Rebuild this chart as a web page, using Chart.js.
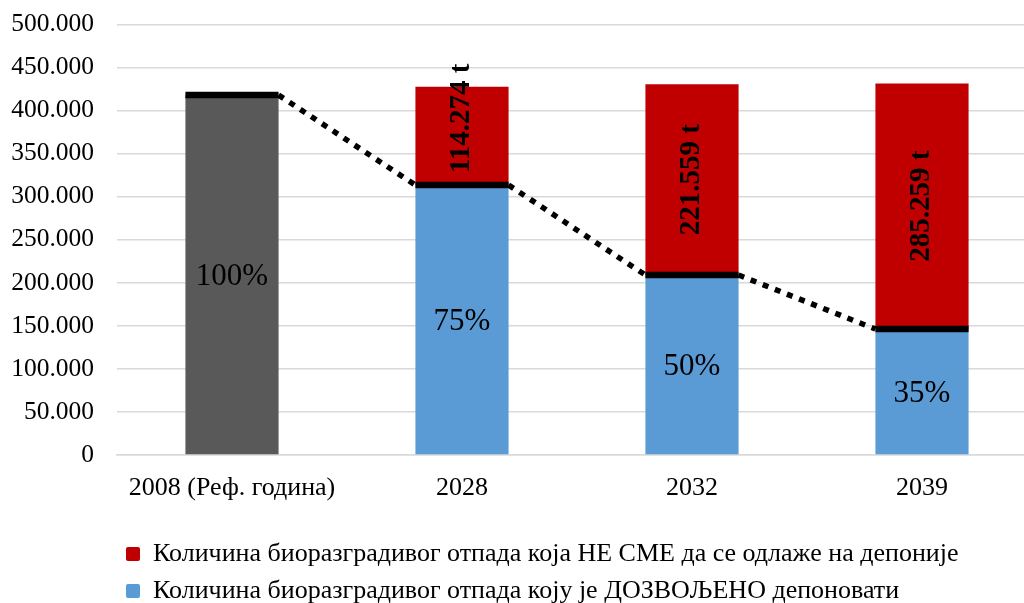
<!DOCTYPE html>
<html>
<head>
<meta charset="utf-8">
<script src="https://cdn.jsdelivr.net/npm/chart.js"></script>
<style>
  html, body { margin: 0; padding: 0; background: #fff; overflow: hidden; }
  #wrap { width: 1040px; height: 603px; }
</style>
</head>
<body>
<div id="wrap"><canvas id="grafik" width="1040" height="603"></canvas></div>
<script>
// Категорије (године)
const godine = ['2008 (Реф. година)', '2028', '2032', '2039'];
// Референтна количина 2008. године (t)
const referentna = [418000, null, null, null];
// Количина коју је дозвољено депоновати (t)
const dozvoljeno = [null, 313500, 209000, 146300];
// Количина која не сме да се одлаже (t)
const zabranjeno = [null, 114274, 221559, 285259];
// Проценти у односу на референтну годину
const procenti = ['100%', '75%', '50%', '35%'];
// Подеоци на Y оси
const yMin = 0, yMax = 500000, yKorak = 50000;

const SERIF = "'Liberation Serif', 'Times New Roman', serif";

// 500000 -> "500.000"
function formatBroj(v) {
    return String(v).replace(/\B(?=(\d{3})+(?!\d))/g, '.');
}

// Црне ознаке на врху стубова, тачкаста линија и натписи у стубовима
const oznakePlugin = {
    id: 'oznake',
    afterLayout(chart) {
        // легенда поравнана лево испод графикона
        const lg = chart.legend;
        lg.left = 115;
        lg.top += 11;
        lg.bottom += 11;
    },
    afterDatasetsDraw(chart) {
        const ctx = chart.ctx;
        const mRef = chart.getDatasetMeta(0);
        const mDoz = chart.getDatasetMeta(1);
        const mZab = chart.getDatasetMeta(2);

        const donji = godine.map((g, i) => referentna[i] != null ? mRef.data[i] : mDoz.data[i]);

        ctx.save();
        // тачкаста линија између стубова
        ctx.strokeStyle = '#000';
        ctx.lineWidth = 5.5;
        ctx.setLineDash([6, 7]);
        ctx.lineCap = 'butt';
        for (let i = 1; i < donji.length; i++) {
            const a = donji[i - 1], b = donji[i];
            ctx.beginPath();
            ctx.moveTo(a.x + a.width / 2, a.y);
            ctx.lineTo(b.x - b.width / 2, b.y);
            ctx.stroke();
        }
        // дебеле црне црте на врху
        ctx.setLineDash([]);
        ctx.lineWidth = 6.5;
        donji.forEach(el => {
            ctx.beginPath();
            ctx.moveTo(el.x - el.width / 2, el.y);
            ctx.lineTo(el.x + el.width / 2, el.y);
            ctx.stroke();
        });

        // проценти у средини доњих стубова
        ctx.fillStyle = '#000';
        ctx.textAlign = 'center';
        ctx.textBaseline = 'middle';
        ctx.font = '31px ' + SERIF;
        donji.forEach((el, i) => {
            ctx.fillText(procenti[i], el.x, (el.y + el.base) / 2 + 2);
        });

        // вертикални натписи у црвеним стубовима
        ctx.font = 'bold 29px ' + SERIF;
        zabranjeno.forEach((v, i) => {
            if (v == null) return;
            const el = mZab.data[i];
            const tekst = formatBroj(v) + ' t';
            const duz = ctx.measureText(tekst).width;
            const cy = Math.min((el.y + el.base) / 2, el.base - duz / 2 - 12);
            ctx.save();
            ctx.translate(el.x, cy);
            ctx.rotate(-Math.PI / 2);
            ctx.fillText(tekst, 0, 0);
            ctx.restore();
        });
        ctx.restore();
    }
};

const ctx = document.getElementById('grafik').getContext('2d');
const grafik = new Chart(ctx, {
    type: 'bar',
    data: {
        labels: godine,
        datasets: [
            {
                label: 'Референтна година',
                data: referentna,
                backgroundColor: '#595959'
            },
            {
                label: 'Количина биоразградивог отпада коју је ДОЗВОЉЕНО депоновати',
                data: dozvoljeno,
                backgroundColor: '#5b9bd5'
            },
            {
                label: 'Количина биоразградивог отпада која НЕ СМЕ да се одлаже на депоније',
                data: zabranjeno,
                backgroundColor: '#c00000'
            }
        ]
    },
    options: {
        responsive: false,
        animation: false,
        categoryPercentage: 1,
        barPercentage: 0.405,
        layout: { padding: { top: 24.5, right: 3, left: 0, bottom: 0 } },
        scales: {
            x: {
                stacked: true,
                grid: { display: false },
                border: { display: true, color: '#d9d9d9', width: 1.5 },
                ticks: {
                    color: '#000',
                    padding: 10,
                    maxRotation: 0,
                    font: { family: SERIF, size: 26 }
                },
                afterFit(scale) { scale.height = 64; }
            },
            y: {
                stacked: true,
                min: yMin,
                max: yMax,
                grid: {
                    color: '#d9d9d9',
                    lineWidth: 1.5,
                    drawTicks: true,
                    tickLength: 23,
                    tickColor: 'rgba(0,0,0,0)'
                },
                border: { display: false },
                ticks: {
                    stepSize: yKorak,
                    color: '#000',
                    padding: 0,
                    font: { family: SERIF, size: 25.5 },
                    callback: v => formatBroj(v)
                },
                afterFit(scale) { scale.width = 117; }
            }
        },
        plugins: {
            tooltip: { enabled: false },
            legend: {
                position: 'bottom',
                align: 'start',
                labels: {
                    color: '#000',
                    boxWidth: 14,
                    boxHeight: 14,
                    padding: 11,
                    useBorderRadius: true,
                    borderRadius: 2,
                    font: { family: SERIF, size: 26 },
                    filter: item => item.datasetIndex > 0,
                    sort: (a, b) => b.datasetIndex - a.datasetIndex
                }
            }
        }
    },
    plugins: [oznakePlugin]
});
</script>
</body>
</html>
